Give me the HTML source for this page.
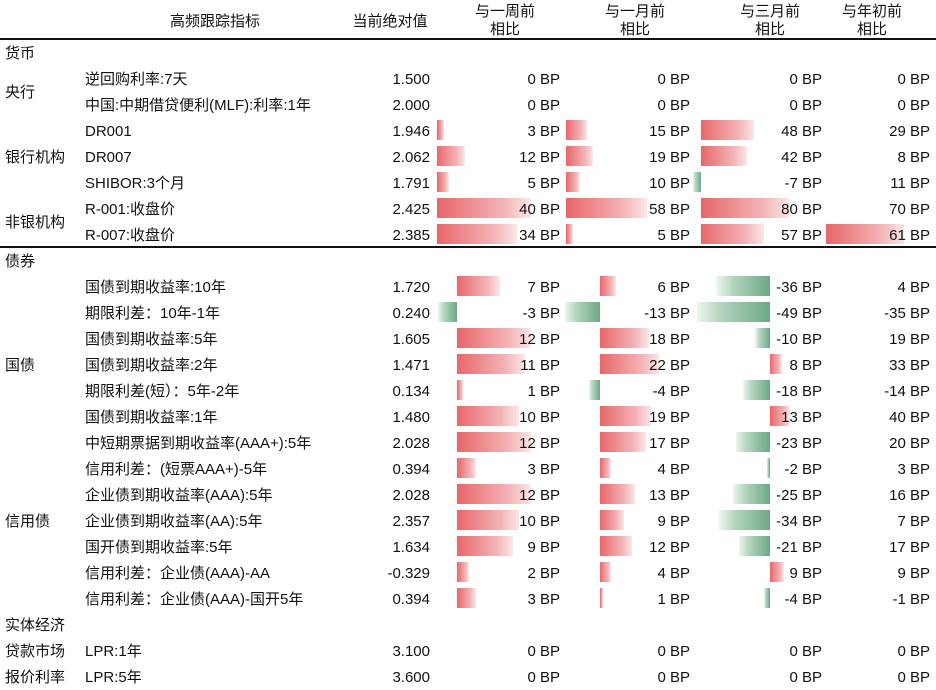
<!DOCTYPE html>
<html><head><meta charset="utf-8">
<style>
body{margin:0;background:#fff;}
#t{position:relative;width:936px;height:690px;overflow:hidden;font-family:"Liberation Sans","Noto Sans CJK SC",sans-serif;font-size:15px;color:#111;}
#t div{position:absolute;white-space:nowrap;line-height:20px;}
.bar{height:20px;}
.pos{background:linear-gradient(to right,#e8676a,#f3b3b5 70%,#fbe6e7);}
.neg{background:linear-gradient(to left,#6aa983,#b7d6c2 70%,#eef6f1);}
.r{text-align:right;}
.h{text-align:center;line-height:18px!important;}
</style></head><body>
<div id="t">
<div class="h" style="left:150px;top:13px;width:130px">高频跟踪指标</div>
<div class="h" style="left:340px;top:13px;width:100px">当前绝对值</div>
<div class="h" style="left:455px;top:3px;width:100px">与一周前<br>相比</div>
<div class="h" style="left:585px;top:3px;width:100px">与一月前<br>相比</div>
<div class="h" style="left:720px;top:3px;width:100px">与三月前<br>相比</div>
<div class="h" style="left:822px;top:3px;width:100px">与年初前<br>相比</div>
<div style="left:0;top:38px;width:936px;height:2px;background:#111"></div>
<div style="left:0;top:246px;width:936px;height:2px;background:#111"></div>
</div>
<script>
const names=["逆回购利率:7天","中国:中期借贷便利(MLF):利率:1年","DR001","DR007","SHIBOR:3个月","R-001:收盘价","R-007:收盘价",
"国债到期收益率:10年","期限利差：10年-1年","国债到期收益率:5年","国债到期收益率:2年","期限利差(短）：5年-2年","国债到期收益率:1年","中短期票据到期收益率(AAA+):5年","信用利差：(短票AAA+)-5年","企业债到期收益率(AAA):5年","企业债到期收益率(AA):5年","国开债到期收益率:5年","信用利差：企业债(AAA)-AA","信用利差：企业债(AAA)-国开5年",
"LPR:1年","LPR:5年"];
const values=["1.500","2.000","1.946","2.062","1.791","2.425","2.385","1.720","0.240","1.605","1.471","0.134","1.480","2.028","0.394","2.028","2.357","1.634","-0.329","0.394","3.100","3.600"];
const weekBP=[0,0,3,12,5,40,34,7,-3,12,11,1,10,12,3,12,10,9,2,3,0,0];
const monthBP=[0,0,15,19,10,58,5,6,-13,18,22,-4,19,17,4,13,9,12,4,1,0,0];
const quarterBP=[0,0,48,42,-7,80,57,-36,-49,-10,8,-18,13,-23,-2,-25,-34,-21,9,-4,0,0];
const ytdBP=[0,0,29,8,11,70,61,4,-35,19,33,-14,40,20,3,16,7,17,9,-1,0,0];
const ytdBarShown=[0,0,0,0,0,0,1,0,0,0,0,0,0,0,0,0,0,0,0,0,0,0];
const rowY=[78,104,130,156,182,208,234,286,312,338,364,390,416,442,468,494,520,546,572,598,650,676];
const groups=[["货币",52],["央行",91],["银行机构",156],["非银机构",221],["债券",260],["国债",364],["信用债",520],["实体经济",624],["贷款市场",650],["报价利率",676]];
const cols=[{arr:weekBP,right:560,money:[437,2.35],bond:[457,6.2]},
{arr:monthBP,right:690,money:[566,1.4],bond:[600,2.7]},
{arr:quarterBP,right:822,money:[701,1.1],bond:[770,1.5]},
{arr:ytdBP,right:930,money:[826,1.28],bond:[880,1]}];
const T=document.getElementById('t');
function mk(cls,style,text){const d=document.createElement('div');if(cls)d.className=cls;d.style.cssText=style;if(text!=null)d.textContent=text;T.appendChild(d);return d;}
groups.forEach(g=>{const d=mk('','left:5px;top:'+(g[1]-8)+'px',g[0]);

});
names.forEach((n,i)=>{const y=rowY[i]-10;const ty=y+2;
const a=mk('','left:85px;top:'+ty+'px',n);


const v=mk('r','left:340px;top:'+ty+'px;width:90px',values[i]);


cols.forEach((c,ci)=>{const val=c.arr[i];
const sec=i<7?c.money:(i<20?c.bond:null);
let show=sec&&val!==0&&(ci<3||ytdBarShown[i]);
if(show){const w=Math.abs(val)*sec[1];const x=val>0?sec[0]:sec[0]-w;
const b=mk('bar '+(val>0?'pos':'neg'),'left:'+x+'px;top:'+y+'px;width:'+w+'px');

}
const t=mk('r','left:'+(c.right-100)+'px;top:'+ty+'px;width:100px',val+' BP');

});});
</script>
</body></html>
